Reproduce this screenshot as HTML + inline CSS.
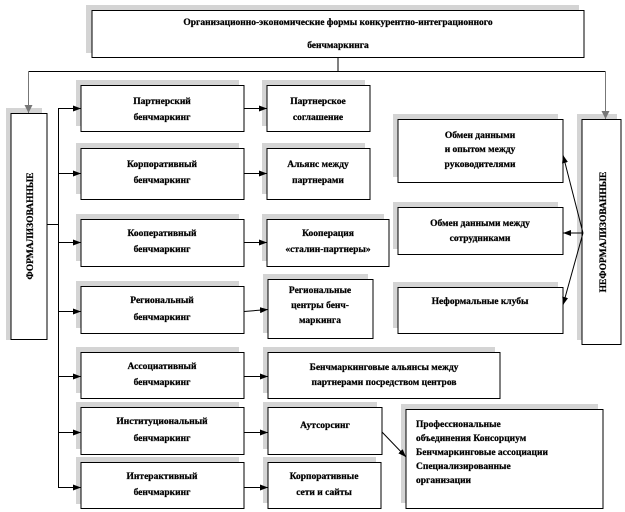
<!DOCTYPE html>
<html><head><meta charset="utf-8"><style>
html,body{margin:0;padding:0;background:#fff;}
svg{display:block;}
text{font-family:"Liberation Serif",serif;font-weight:bold;font-size:9.5px;fill:#000;stroke:#000;stroke-width:0.25;}
.b{fill:#fff;stroke:#000;stroke-width:1;}
.s{fill:#d4d4d4;}
.l{stroke:#000;stroke-width:1;fill:none;}
</style></head><body>
<svg width="625" height="512" viewBox="0 0 625 512" xmlns="http://www.w3.org/2000/svg">
<defs>
<marker id="a" markerWidth="8" markerHeight="6" refX="8" refY="3" orient="auto" markerUnits="userSpaceOnUse"><path d="M0,0 L8,3 L0,6 z" fill="#000"/></marker>
<marker id="g" markerWidth="8" markerHeight="8" refX="8" refY="4" orient="auto" markerUnits="userSpaceOnUse"><path d="M0,0 L8,4 L0,8 z" fill="#777"/></marker>
</defs>
<g class="s">
<rect x="86" y="5" width="493" height="48"/>
<rect x="6" y="108" width="36" height="232"/>
<rect x="577" y="114" width="40" height="226"/>
<rect x="76" y="80" width="163" height="46"/>
<rect x="76" y="143" width="163" height="51"/>
<rect x="76" y="214" width="163" height="47"/>
<rect x="76" y="281" width="163" height="47"/>
<rect x="76" y="347" width="163" height="46"/>
<rect x="76" y="402" width="163" height="47"/>
<rect x="76" y="457" width="163" height="47"/>
<rect x="262" y="80" width="103" height="46"/>
<rect x="262" y="143" width="103" height="51"/>
<rect x="262" y="214" width="122" height="47"/>
<rect x="263" y="274" width="105" height="59"/>
<rect x="263" y="347" width="232" height="46"/>
<rect x="263" y="402" width="114" height="47"/>
<rect x="263" y="457" width="113" height="46"/>
<rect x="393" y="114" width="165" height="63"/>
<rect x="393" y="202" width="165" height="47"/>
<rect x="393" y="282" width="165" height="46"/>
<rect x="401" y="404" width="197" height="99"/>
</g>
<g class="b">
<rect x="92" y="10.5" width="492" height="47"/>
<rect x="11" y="113.5" width="36" height="226"/>
<rect x="582" y="119.5" width="39" height="225"/>
<rect x="81" y="85.5" width="163" height="46"/>
<rect x="81" y="148.5" width="163" height="51"/>
<rect x="81" y="219.5" width="163" height="47"/>
<rect x="81" y="286.5" width="163" height="47"/>
<rect x="81" y="352.5" width="163" height="46"/>
<rect x="81" y="407.5" width="163" height="47"/>
<rect x="81" y="462.5" width="163" height="46"/>
<rect x="267" y="85.5" width="103" height="46"/>
<rect x="267" y="148.5" width="103" height="51"/>
<rect x="267" y="219.5" width="122" height="47"/>
<rect x="268" y="279.5" width="105" height="59"/>
<rect x="268" y="352.5" width="232" height="46"/>
<rect x="268" y="407.5" width="114" height="47"/>
<rect x="268" y="462.5" width="113" height="46"/>
<rect x="398" y="119.5" width="165" height="63"/>
<rect x="398" y="207.5" width="165" height="47"/>
<rect x="398" y="287.5" width="165" height="46"/>
<rect x="406" y="409.5" width="197" height="99"/>
</g>
<path class="l" d="M338,58 V71.5 M28.5,71.5 H605.5"/>
<line x1="28.5" y1="71.5" x2="28.5" y2="113" stroke="#777" marker-end="url(#g)"/>
<line x1="605.5" y1="71.5" x2="605.5" y2="119" stroke="#777" marker-end="url(#g)"/>
<path class="l" d="M47,224.5 H58.5 M58.5,108.5 V487.5"/>
<g class="l">
<line x1="58" y1="108.5" x2="81" y2="108.5" marker-end="url(#a)"/>
<line x1="58" y1="173.5" x2="81" y2="173.5" marker-end="url(#a)"/>
<line x1="58" y1="242.5" x2="81" y2="242.5" marker-end="url(#a)"/>
<line x1="58" y1="311.5" x2="81" y2="311.5" marker-end="url(#a)"/>
<line x1="58" y1="376.5" x2="81" y2="376.5" marker-end="url(#a)"/>
<line x1="58" y1="432.5" x2="81" y2="432.5" marker-end="url(#a)"/>
<line x1="58" y1="487.5" x2="81" y2="487.5" marker-end="url(#a)"/>
<line x1="244" y1="108.5" x2="267" y2="108.5" marker-end="url(#a)"/>
<line x1="244" y1="173.5" x2="267" y2="173.5" marker-end="url(#a)"/>
<line x1="244" y1="242.5" x2="267" y2="242.5" marker-end="url(#a)"/>
<line x1="244" y1="311.5" x2="268" y2="309.5" marker-end="url(#a)"/>
<line x1="244" y1="376.5" x2="268" y2="376.5" marker-end="url(#a)"/>
<line x1="244" y1="432.5" x2="268" y2="432.5" marker-end="url(#a)"/>
<line x1="244" y1="487.5" x2="268" y2="487.5" marker-end="url(#a)"/>
<line x1="382" y1="432" x2="406" y2="457" marker-end="url(#a)"/>
<line x1="583" y1="233" x2="563" y2="155" marker-end="url(#a)"/>
<line x1="583" y1="233" x2="563" y2="233" marker-end="url(#a)"/>
<line x1="583" y1="233" x2="563" y2="305" marker-end="url(#a)"/>
</g>
<g text-anchor="middle">
<text x="338" y="25">Организационно-экономические  формы  конкурентно-интеграционного</text>
<text x="338" y="48">бенчмаркинга</text>
<text x="162" y="104">Партнерский</text><text x="162" y="120">бенчмаркинг</text>
<text x="162" y="167">Корпоративный</text><text x="162" y="183">бенчмаркинг</text>
<text x="162" y="236">Кооперативный</text><text x="162" y="252">бенчмаркинг</text>
<text x="162" y="303">Региональный</text><text x="162" y="320">бенчмаркинг</text>
<text x="162" y="369">Ассоциативный</text><text x="162" y="385">бенчмаркинг</text>
<text x="162" y="424">Институциональный</text><text x="162" y="441">бенчмаркинг</text>
<text x="162" y="479">Интерактивный</text><text x="162" y="495">бенчмаркинг</text>
<text x="318" y="104">Партнерское</text><text x="318" y="120">соглашение</text>
<text x="318" y="167">Альянс между</text><text x="318" y="183">партнерами</text>
<text x="328" y="236">Кооперация</text><text x="328" y="252">«сталин-партнеры»</text>
<text x="320" y="293">Региональные</text><text x="320" y="308">центры бенч-</text><text x="320" y="323">маркинга</text>
<text x="384" y="370">Бенчмаркинговые  альянсы между</text><text x="384" y="385">партнерами посредством центров</text>
<text x="325" y="428">Аутсорсинг</text>
<text x="324" y="479">Корпоративные</text><text x="324" y="495">сети и сайты</text>
<text x="480" y="138">Обмен данными</text><text x="480" y="152">и опытом  между</text><text x="480" y="167">руководителями</text>
<text x="480" y="226">Обмен данными  между</text><text x="480" y="241">сотрудниками</text>
<text x="480" y="304">Неформальные  клубы</text>
</g>
<g>
<text x="416" y="427">Профессиональные</text>
<text x="416" y="441">объединения Консорциум</text>
<text x="416" y="455">Бенчмаркинговые  ассоциации</text>
<text x="416" y="469">Специализированные</text>
<text x="416" y="483">организации</text>
</g>
<text x="0" y="0" font-size="11.5" text-anchor="middle" transform="translate(33,226) rotate(-90)">ФОРМАЛИЗОВАННЫЕ</text>
<text x="0" y="0" font-size="11.5" text-anchor="middle" transform="translate(606,232) rotate(-90)">НЕФОРМАЛИЗОВАННЫЕ</text>
</svg>
</body></html>
